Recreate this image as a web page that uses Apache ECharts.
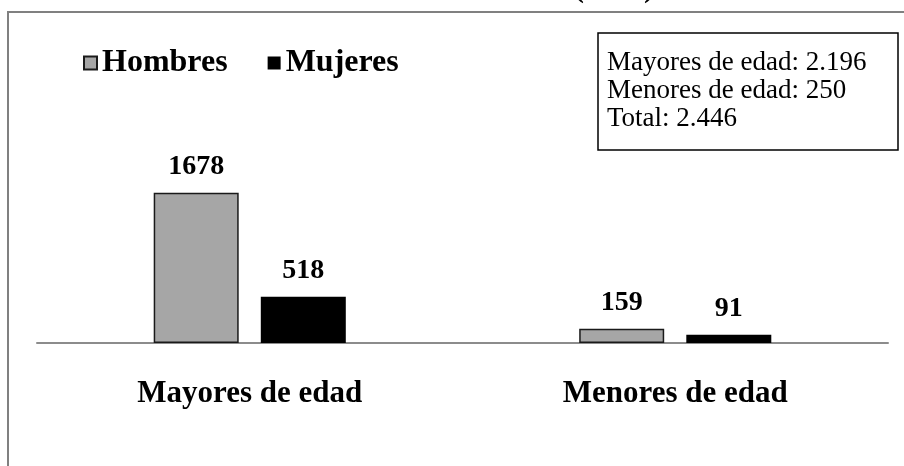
<!DOCTYPE html>
<html>
<head>
<meta charset="utf-8">
<script src="https://cdn.jsdelivr.net/npm/echarts@6/dist/echarts.min.js"></script>
<style>
  html, body { margin: 0; padding: 0; background: #fff; }
  #chart { width: 904px; height: 466px; }
</style>
</head>
<body>
<div id="chart"></div>
<script>
const categories = ['Mayores de edad', 'Menores de edad'];
const seriesNames = ['Hombres', 'Mujeres'];
const hombres = [1678, 159];
const mujeres = [518, 91];
const titleYear = '(2019)';

const serif = '"Liberation Serif", "DejaVu Serif", serif';

// 2196 -> "2.196"
function fmt(n) {
  return String(n).replace(/\B(?=(\d{3})+(?!\d))/g, '.');
}

const totals = categories.map((c, i) => hombres[i] + mujeres[i]);
const grandTotal = totals[0] + totals[1];
const boxText = categories.map((c, i) => `${c}: ${fmt(totals[i])}`).join('\n') +
  `\nTotal: ${fmt(grandTotal)}`;

const chart = echarts.init(document.getElementById('chart'));

const option = {
  backgroundColor: '#fff',
  animation: false,
  title: {
    text: boxText,
    left: 598,
    top: 33,
    padding: [16, 32, 17, 9],
    borderColor: '#000',
    borderWidth: 1.5,
    textStyle: {
      fontFamily: serif,
      fontWeight: 'normal',
      fontSize: 27,
      lineHeight: 28,
      color: '#000',
    },
  },
  legend: {
    left: 78,
    top: 42,
    icon: 'rect',
    itemWidth: 13,
    itemHeight: 13,
    itemGap: 40,
    textStyle: {
      fontFamily: serif,
      fontWeight: 'bold',
      fontSize: 32,
      color: '#000',
    },
    data: seriesNames,
  },
  grid: {
    left: 37,
    right: 16,
    top: 164,
    bottom: 123,
  },
  xAxis: {
    type: 'category',
    data: categories,
    axisTick: { show: false },
    axisLine: {
      lineStyle: { color: '#8c8c8c', width: 2 },
    },
    axisLabel: {
      margin: 35,
      fontFamily: serif,
      fontWeight: 'bold',
      fontSize: 31,
      color: '#000',
    },
  },
  yAxis: {
    type: 'value',
    min: 0,
    max: 2000,
    show: false,
    splitLine: { show: false },
  },
  graphic: [
    {
      type: 'rect',
      silent: true,
      shape: { x: 8, y: 12, width: 1000, height: 1000 },
      style: { fill: 'none', stroke: '#808080', lineWidth: 2 },
    },
    {
      type: 'text',
      silent: true,
      x: 574,
      y: -11,
      style: {
        text: titleYear,
        fontFamily: serif,
        fontWeight: 'bold',
        fontSize: 30,
        fill: '#000',
        verticalAlign: 'middle',
      },
    },
  ],
  series: [
    {
      name: seriesNames[0],
      type: 'bar',
      data: hombres,
      barWidth: 85,
      barGap: '26%',
      itemStyle: {
        color: '#a6a6a6',
        borderColor: '#1a1a1a',
        borderWidth: 1.5,
      },
      label: {
        show: true,
        position: 'top',
        distance: 12,
        fontFamily: serif,
        fontWeight: 'bold',
        fontSize: 28,
        color: '#000',
      },
    },
    {
      name: seriesNames[1],
      type: 'bar',
      data: mujeres,
      barWidth: 85,
      itemStyle: {
        color: '#000',
      },
      label: {
        show: true,
        position: 'top',
        distance: 12,
        fontFamily: serif,
        fontWeight: 'bold',
        fontSize: 28,
        color: '#000',
      },
    },
  ],
};

chart.setOption(option);
</script>
</body>
</html>
